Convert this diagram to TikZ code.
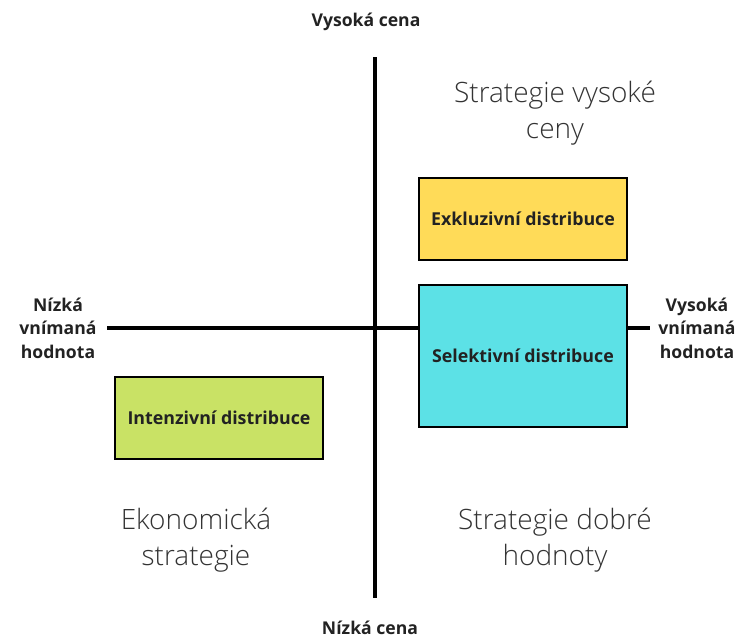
\documentclass[tikz,border=0pt]{standalone}
\usepackage{fontspec}
\setmainfont{Open Sans}
\newfontfamily\lightfont{Open Sans Light}
\definecolor{ylw}{HTML}{FFDB58}
\definecolor{cyn}{HTML}{5CE1E6}
\definecolor{grn}{HTML}{C9E265}
\definecolor{txt}{HTML}{222222}
\definecolor{ttl}{HTML}{333333}
\tikzset{
  axisline/.style={line width=4pt, black},
  qbox/.style={draw=black, line width=1.8pt, minimum width=208pt, font=\fontsize{17.8}{19}\selectfont\bfseries, text=txt},
  axlabel/.style={font=\fontsize{17.6}{23.5}\selectfont\bfseries, text=txt, align=center},
  qtitle/.style={font=\lightfont\fontsize{28}{36}\selectfont, text=ttl, align=center}
}
\begin{document}
\begin{tikzpicture}[x=1pt,y=-1pt]
\useasboundingbox (0,0) rectangle (739,640);
\coordinate (vt) at (375,57);
\coordinate (vb) at (375,598);
\coordinate (hl) at (107,328);
\coordinate (hr) at (650,328);
\draw[axisline] (vt) -- (vb);
\draw[axisline] (hl) -- (hr);
\node[qbox, fill=ylw, minimum height=82pt] (excl) at (523,219) {Exkluzivní distribuce};
\node[qbox, fill=cyn, minimum height=142pt] (sel) at (523,356) {Selektivní distribuce};
\node[qbox, fill=grn, minimum height=82pt] (int) at (219,418) {Intenzivní distribuce};
\node[axlabel] (hc) at (366,22) {Vysoká cena};
\node[axlabel, inner sep=1pt] (lc) at (370,628) {Nízká cena};
\node[axlabel] (lv) at (58,328) {Nízká\\vnímaná\\hodnota};
\node[axlabel] (hv) at (697,328) {Vysoká\\vnímaná\\hodnota};
\node[qtitle] (t1) at (555,113) {Strategie vysoké\\ceny};
\node[qtitle] (t2) at (196,540) {Ekonomická\\strategie};
\node[qtitle] (t3) at (555,540) {Strategie dobré\\hodnoty};
\end{tikzpicture}
\end{document}
